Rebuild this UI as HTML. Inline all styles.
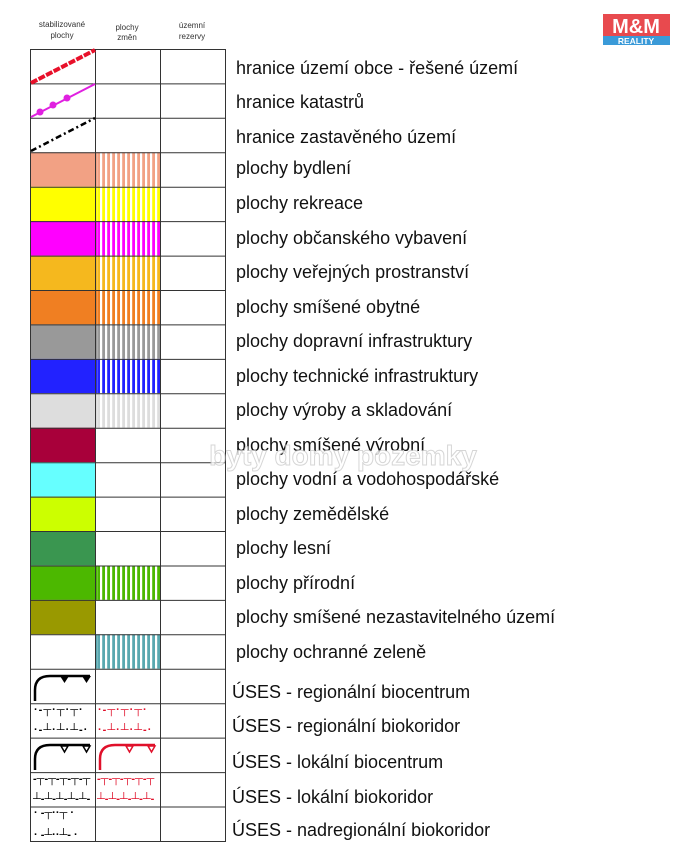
<!DOCTYPE html>
<html><head><meta charset="utf-8"><style>
body{margin:0;background:#fff;width:686px;height:854px;overflow:hidden}
svg{display:block}
text{font-family:"Liberation Sans",sans-serif}
</style></head><body>
<svg width="686" height="854" viewBox="0 0 686 854" xmlns="http://www.w3.org/2000/svg">
<defs>
<pattern id="h" width="5" height="10" patternUnits="userSpaceOnUse"><rect width="2.2" height="10" fill="#fff"/></pattern>
</defs>
<g font-size="8" fill="#333" text-anchor="middle">
<text x="62" y="27">stabilizované</text><text x="62" y="38">plochy</text>
<text x="127" y="30">plochy</text><text x="127" y="40">změn</text>
<text x="192" y="28">územní</text><text x="192" y="39">rezervy</text>
</g>
<rect x="603" y="14" width="67" height="22" fill="#e84a4e"/>
<text x="636" y="33" font-size="20" font-weight="bold" fill="#fff" text-anchor="middle">M&amp;M</text>
<rect x="603" y="36" width="67" height="9" fill="#3a9ad8"/>
<text x="636" y="44" font-size="8.5" font-weight="bold" fill="#fff" text-anchor="middle">REALITY</text>

<g id="fills">
<rect x="30" y="152.3" width="65" height="34.4" fill="#f2a184"/><rect x="95" y="152.3" width="65" height="34.4" fill="#f2a184"/>
<rect x="30" y="186.7" width="65" height="34.4" fill="#ffff00"/><rect x="95" y="186.7" width="65" height="34.4" fill="#ffff00"/>
<rect x="30" y="221.1" width="65" height="34.4" fill="#ff00ff"/><rect x="95" y="221.1" width="65" height="34.4" fill="#ff00ff"/>
<rect x="30" y="255.6" width="65" height="34.4" fill="#f5b81e"/><rect x="95" y="255.6" width="65" height="34.4" fill="#f5b81e"/>
<rect x="30" y="290" width="65" height="34.4" fill="#f07f22"/><rect x="95" y="290" width="65" height="34.4" fill="#f07f22"/>
<rect x="30" y="324.4" width="65" height="34.4" fill="#999999"/><rect x="95" y="324.4" width="65" height="34.4" fill="#999999"/>
<rect x="30" y="358.9" width="65" height="34.4" fill="#2222ff"/><rect x="95" y="358.9" width="65" height="34.4" fill="#2222ff"/>
<rect x="30" y="393.3" width="65" height="34.4" fill="#dddddd"/><rect x="95" y="393.3" width="65" height="34.4" fill="#dddddd"/>
<rect x="30" y="427.7" width="65" height="34.4" fill="#a8003a"/>
<rect x="30" y="462.2" width="65" height="34.4" fill="#66ffff"/>
<rect x="30" y="496.6" width="65" height="34.4" fill="#ccff00"/>
<rect x="30" y="531" width="65" height="34.4" fill="#3a9650"/>
<rect x="30" y="565.5" width="65" height="34.4" fill="#4cb800"/><rect x="95" y="565.5" width="65" height="34.4" fill="#4cb800"/>
<rect x="30" y="599.9" width="65" height="34.4" fill="#999900"/>
<rect x="95" y="634.3" width="65" height="34.4" fill="#5aa8b0"/>
</g>
<rect x="97" y="152.3" width="63" height="275.4" fill="url(#h)"/>
<rect x="97" y="565.5" width="63" height="34.4" fill="url(#h)"/>
<rect x="97" y="634.3" width="63" height="34.4" fill="url(#h)"/>

<g stroke="#333" stroke-width="1" fill="none">
<rect x="30.5" y="49.5" width="195" height="792"/>
<line x1="95.5" y1="49" x2="95.5" y2="842"/><line x1="160.5" y1="49" x2="160.5" y2="842"/>
<path d="M30 83.9H225M30 118.3H225M30 152.8H225M30 187.2H225M30 221.6H225M30 256.1H225M30 290.5H225M30 324.9H225M30 359.4H225M30 393.8H225M30 428.2H225M30 462.7H225M30 497.1H225M30 531.5H225M30 566H225M30 600.4H225M30 634.8H225M30 669.3H225M30 703.7H225M30 738.1H225M30 772.6H225M30 807H225"/>
</g>

<line x1="31" y1="83" x2="95" y2="50" stroke="#e8102a" stroke-width="4" stroke-dasharray="7,1.5"/>
<line x1="31" y1="117" x2="95" y2="84" stroke="#e020e0" stroke-width="2"/>
<g fill="#e020e0"><circle cx="40" cy="112" r="3.5"/><circle cx="53" cy="105" r="3.5"/><circle cx="67" cy="98" r="3.5"/></g>
<line x1="31" y1="151" x2="95" y2="118" stroke="#000" stroke-width="2.5" stroke-dasharray="6,3,2,3"/>

<g fill="none" stroke="#000" stroke-width="2.5">
<path d="M35 701V690Q35 676 50 676H90"/>
</g>
<path d="M60 676h9l-4.5 7z M82 676h9l-4.5 7z" fill="#000"/>
<g fill="none" stroke-width="2.5">
<path d="M35 770V759Q35 745 50 745H90" stroke="#000"/>
<path d="M100 770V759Q100 745 115 745H155" stroke="#e0102a"/>
</g>
<path d="M61 746h7l-3.5 6z M83 746h7l-3.5 6z" fill="#fff" stroke="#000" stroke-width="1.5"/>
<path d="M126 746h7l-3.5 6z M148 746h7l-3.5 6z" fill="#fff" stroke="#e0102a" stroke-width="1.5"/>
<g font-size="11" font-weight="bold" text-anchor="start">
<text x="34" y="713" fill="#000" letter-spacing="1">·-┬·┬·┬·</text>
<text x="34" y="733" fill="#000" letter-spacing="1">·-┴·┴·┴-·</text>
<text x="98" y="713" fill="#e0102a" letter-spacing="1">·-┬·┬·┬·</text>
<text x="98" y="733" fill="#e0102a" letter-spacing="1">·-┴·┴·┴-·</text>
<text x="33" y="782" fill="#000">-┬-┬-┬-┬-┬</text>
<text x="33" y="802" fill="#000">┴-┴-┴-┴-┴-</text>
<text x="97" y="782" fill="#e0102a">-┬-┬-┬-┬-┬</text>
<text x="97" y="802" fill="#e0102a">┴-┴-┴-┴-┴-</text>
<text x="34" y="816" fill="#000">·  -┬··┬   ·</text>
<text x="34" y="838" fill="#000">·  -┴··┴-  ·</text>
</g>

<g font-size="18" fill="#111">
<text x="236" y="74">hranice území obce - řešené území</text>
<text x="236" y="108">hranice katastrů</text>
<text x="236" y="143">hranice zastavěného území</text>
<text x="236" y="174">plochy bydlení</text>
<text x="236" y="209">plochy rekreace</text>
<text x="236" y="244">plochy občanského vybavení</text>
<text x="236" y="278">plochy veřejných prostranství</text>
<text x="236" y="313">plochy smíšené obytné</text>
<text x="236" y="347">plochy dopravní infrastruktury</text>
<text x="236" y="382">plochy technické infrastruktury</text>
<text x="236" y="416">plochy výroby a skladování</text>
<text x="236" y="451">plochy smíšené výrobní</text>
<text x="236" y="485">plochy vodní a vodohospodářské</text>
<text x="236" y="520">plochy zemědělské</text>
<text x="236" y="554">plochy lesní</text>
<text x="236" y="589">plochy přírodní</text>
<text x="236" y="623">plochy smíšené nezastavitelného území</text>
<text x="236" y="658">plochy ochranné zeleně</text>
<text x="232" y="698">ÚSES - regionální biocentrum</text>
<text x="232" y="732">ÚSES - regionální biokoridor</text>
<text x="232" y="768">ÚSES - lokální biocentrum</text>
<text x="232" y="803">ÚSES - lokální biokoridor</text>
<text x="232" y="836">ÚSES - nadregionální biokoridor</text>
</g>
<text x="343" y="465" font-size="28" font-weight="bold" fill="#fff" stroke="#ccc" stroke-width="1" text-anchor="middle" opacity="0.8">byty domy pozemky</text>
</svg>
</body></html>
